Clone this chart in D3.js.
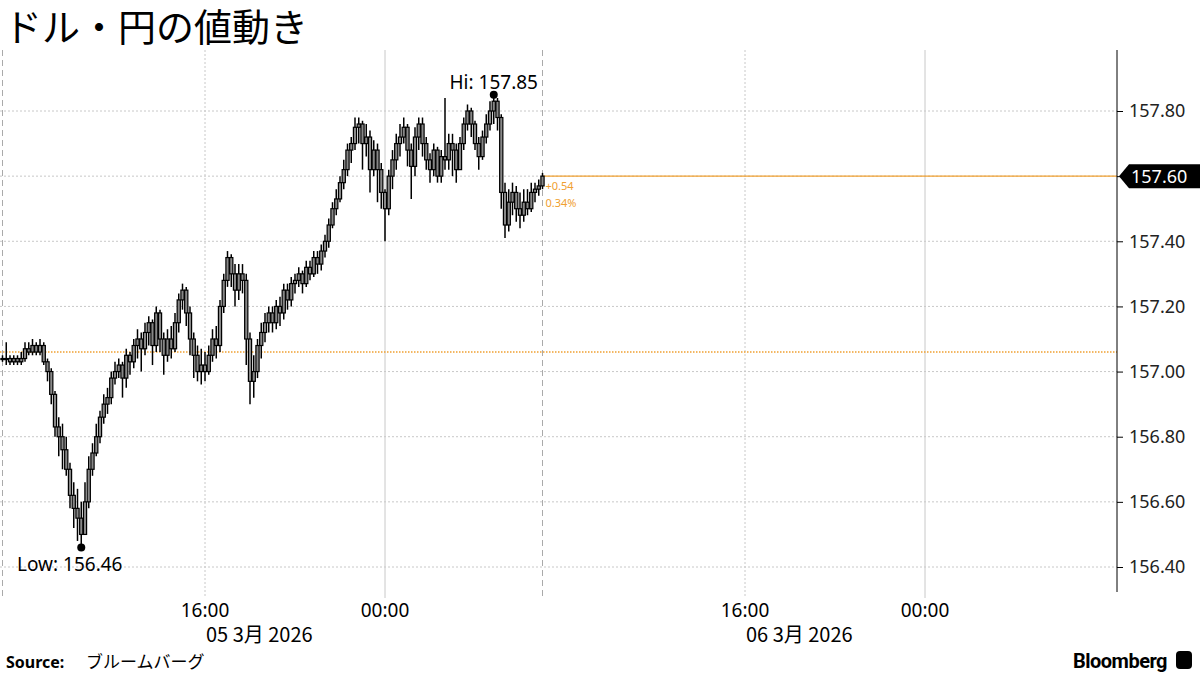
<!DOCTYPE html>
<html><head><meta charset="utf-8">
<script src="https://cdn.jsdelivr.net/npm/d3@7"></script>
<style>body{margin:0;background:#fff;font-family:"Noto Sans CJK JP","Noto Sans",sans-serif}</style>
</head><body><svg id="c" width="1200" height="675"></svg>
<script>
const closes=[157.04,157.04,157.03,157.04,157.03,157.04,157.07,157.06,157.08,157.06,157.08,157.03,
157.00,156.93,156.83,156.80,156.76,156.70,156.62,156.58,156.55,156.50,156.60,156.70,
156.75,156.80,156.86,156.90,156.92,156.98,157.00,157.02,156.98,157.05,157.03,157.08,
157.10,157.07,157.12,157.15,157.08,157.18,157.10,157.05,157.10,157.07,157.15,157.22,
157.25,157.18,157.10,157.05,157.00,157.02,157.00,157.05,157.10,157.08,157.20,157.28,
157.35,157.30,157.25,157.30,157.28,157.10,156.97,157.00,157.08,157.12,157.15,157.18,
157.15,157.20,157.18,157.25,157.22,157.27,157.28,157.30,157.27,157.32,157.30,157.35,
157.33,157.37,157.40,157.45,157.50,157.53,157.58,157.62,157.68,157.70,157.75,157.76,
157.70,157.72,157.62,157.68,157.62,157.55,157.50,157.60,157.65,157.70,157.72,157.75,
157.68,157.63,157.72,157.76,157.70,157.65,157.62,157.68,157.60,157.66,157.65,157.70,
157.68,157.62,157.70,157.76,157.80,157.76,157.70,157.66,157.72,157.76,157.80,157.83,
157.78,157.55,157.45,157.52,157.55,157.50,157.48,157.52,157.50,157.55,157.56,157.57,157.60];
const highs=[157.05,157.09,157.05,157.05,157.05,157.06,157.09,157.09,157.10,157.09,157.10,157.09,
157.04,157.01,156.94,156.86,156.84,156.80,156.72,156.66,156.64,156.60,156.66,156.74,
156.78,156.84,156.88,156.93,156.95,157.00,157.03,157.04,157.03,157.07,157.06,157.10,
157.13,157.12,157.15,157.17,157.16,157.20,157.19,157.12,157.13,157.14,157.18,157.24,
157.27,157.26,157.20,157.12,157.08,157.07,157.06,157.08,157.13,157.14,157.22,157.30,
157.37,157.36,157.33,157.33,157.33,157.30,157.12,157.05,157.10,157.15,157.18,157.20,
157.20,157.22,157.23,157.27,157.27,157.29,157.30,157.32,157.31,157.34,157.34,157.37,
157.37,157.39,157.42,157.47,157.52,157.56,157.60,157.65,157.70,157.72,157.78,157.78,
157.77,157.76,157.74,157.71,157.70,157.64,157.56,157.62,157.68,157.73,157.76,157.78,
157.76,157.70,157.75,157.78,157.78,157.72,157.67,157.70,157.69,157.68,157.84,157.73,
157.73,157.70,157.72,157.78,157.82,157.81,157.77,157.72,157.74,157.79,157.83,157.85,
157.84,157.79,157.58,157.56,157.58,157.57,157.55,157.56,157.56,157.58,157.58,157.59,157.61];
const lows=[157.03,157.02,157.02,157.02,157.02,157.02,157.03,157.05,157.05,157.05,157.05,157.02,
156.97,156.90,156.80,156.74,156.70,156.68,156.58,156.52,156.48,156.46,156.50,156.58,
156.68,156.74,156.78,156.84,156.87,156.90,156.96,156.98,156.92,156.95,156.99,157.01,
157.04,157.00,157.05,157.08,157.02,157.06,157.06,156.99,157.03,157.04,157.06,157.12,
157.19,157.14,157.05,156.98,156.97,156.96,156.97,156.99,157.03,157.04,157.06,157.18,
157.26,157.26,157.20,157.22,157.24,157.02,156.90,156.92,156.98,157.04,157.09,157.12,
157.12,157.13,157.14,157.16,157.19,157.20,157.24,157.26,157.24,157.26,157.28,157.29,
157.30,157.31,157.35,157.38,157.44,157.48,157.52,157.56,157.60,157.64,157.68,157.70,
157.62,157.66,157.55,157.60,157.52,157.50,157.40,157.48,157.56,157.62,157.66,157.70,
157.63,157.53,157.60,157.68,157.66,157.62,157.58,157.60,157.58,157.58,157.62,157.62,
157.60,157.58,157.62,157.68,157.74,157.72,157.68,157.62,157.65,157.70,157.74,157.76,
157.74,157.50,157.41,157.43,157.48,157.46,157.44,157.46,157.48,157.49,157.52,157.54,157.56];
const yTicks=[156.40,156.60,156.80,157.00,157.20,157.40,157.60,157.80];
const prevClose=157.06, lastPrice=157.60, hiVal=157.85, lowVal=156.46;
const changeLabels=["+0.54","0.34%"];
const title="ドル・円の値動き";

const svg=d3.select("#c");
const L=0,R=1117,T=50,B=592;
const start=new Date(2026,2,5,7,0);
const x=d3.scaleTime().domain([new Date(2026,2,5,6,53,20),new Date(2026,2,7,8,32)]).range([L,R]);
const y=d3.scaleLinear().domain([156.4,157.8]).range([567,111]);
const t=i=>new Date(start.getTime()+i*600000);

svg.append("g").selectAll("line").data(yTicks).join("line")
 .attr("x1",L).attr("x2",R).attr("y1",d=>y(d)).attr("y2",d=>y(d))
 .attr("stroke","#c8c8c8").attr("stroke-dasharray","2,2");
const vg=[[new Date(2026,2,5,16),"2,2","#c8c8c8"],[new Date(2026,2,6,0),null,"#c8c8c8"],
 [new Date(2026,2,6,16),"2,2","#c8c8c8"],[new Date(2026,2,7,0),null,"#c8c8c8"],
 [new Date(2026,2,5,7),"6,4","#aaa"],[new Date(2026,2,6,7),"6,4","#aaa"]];
vg.forEach(([d,da,c])=>svg.append("line").attr("x1",x(d)).attr("x2",x(d)).attr("y1",T).attr("y2",B+6)
 .attr("stroke",c).attr("stroke-dasharray",da));
svg.append("line").attr("x1",L).attr("x2",R).attr("y1",y(prevClose)).attr("y2",y(prevClose))
 .attr("stroke","#f0a030").attr("stroke-width",1.5).attr("stroke-dasharray","1.5,1.5");
const lastT=t(closes.length-1);
svg.append("line").attr("x1",x(lastT)).attr("x2",R).attr("y1",y(lastPrice)).attr("y2",y(lastPrice))
 .attr("stroke","#f0a030").attr("stroke-width",1.2);

const g=svg.append("g");
closes.forEach((c,i)=>{
 const o=i?closes[i-1]:closes[0];
 const cx=x(t(i));
 g.append("line").attr("x1",cx).attr("x2",cx).attr("y1",y(highs[i])).attr("y2",y(lows[i])).attr("stroke","#000").attr("stroke-width",1.5);
 const y0=Math.min(y(o),y(c)),h=Math.max(1,Math.abs(y(o)-y(c)));
 g.append("rect").attr("x",cx-1.6).attr("y",y0).attr("width",3.2).attr("height",h)
  .attr("fill","#888").attr("stroke","#000").attr("stroke-width",1.2);
});

const hiI=highs.indexOf(d3.max(highs)), loI=lows.indexOf(d3.min(lows));
svg.append("circle").attr("cx",x(t(hiI))).attr("cy",y(hiVal)).attr("r",4);
svg.append("circle").attr("cx",x(t(loI))).attr("cy",y(lowVal)).attr("r",4);
svg.append("text").attr("x",x(t(hiI))).attr("y",y(hiVal)-6).attr("text-anchor","middle")
 .attr("font-size",19).attr("font-family","Noto Sans").text("Hi: "+hiVal.toFixed(2));
svg.append("text").attr("x",17).attr("y",y(lowVal)+24)
 .attr("font-size",19).attr("font-family","Noto Sans").text("Low: "+lowVal.toFixed(2));
changeLabels.forEach((s,k)=>svg.append("text").attr("x",x(lastT)+3).attr("y",y(lastPrice)+14+k*17)
 .attr("font-size",11).attr("fill","#f0a030").attr("font-family","Noto Sans").text(s));

const ax=svg.append("g").attr("transform",`translate(${R},0)`)
 .call(d3.axisRight(y).tickValues(yTicks).tickFormat(d3.format(".2f")).tickSize(6).tickPadding(6));
ax.select(".domain").attr("d",`M0,${T}V${B}`).attr("stroke","#000");
ax.selectAll("text").attr("font-size",18).attr("font-family","Noto Sans").attr("fill","#222");
const ly=y(lastPrice);
svg.append("path").attr("d",`M${R+2},${ly}L${R+12},${ly-12}H1200V${ly+12}H${R+12}Z`).attr("fill","#000");
svg.append("text").attr("x",R+14).attr("y",ly+6.5).attr("fill","#fff").attr("font-size",18)
 .attr("font-family","Noto Sans").text(lastPrice.toFixed(2));

const xl=[[new Date(2026,2,5,16),"16:00"],[new Date(2026,2,6,0),"00:00"],[new Date(2026,2,6,16),"16:00"],[new Date(2026,2,7,0),"00:00"]];
xl.forEach(([d,s])=>svg.append("text").attr("x",x(d)).attr("y",617).attr("text-anchor","middle")
 .attr("font-size",19).attr("font-family","Noto Sans").text(s));
[[new Date(2026,2,5,16),"05 3月 2026"],[new Date(2026,2,6,16),"06 3月 2026"]].forEach(([d,s])=>
 svg.append("text").attr("x",x(d)+1).attr("y",642).attr("font-size",20).text(s));

svg.append("text").attr("x",4).attr("y",41).attr("font-size",38).text(title);
svg.append("text").attr("x",6).attr("y",668).attr("font-size",16).attr("font-weight","bold")
 .attr("font-family","Noto Sans").text("Source:");
svg.append("text").attr("x",86).attr("y",668).attr("font-size",17).text("ブルームバーグ");
svg.append("text").attr("x",1167).attr("y",668).attr("text-anchor","end").attr("font-size",20)
 .attr("font-weight","bold").attr("font-family","Roboto").attr("letter-spacing","-0.5").text("Bloomberg");
svg.append("rect").attr("x",1176).attr("y",651).attr("width",16).attr("height",18).attr("rx",4).attr("fill","#000");
</script></body></html>
